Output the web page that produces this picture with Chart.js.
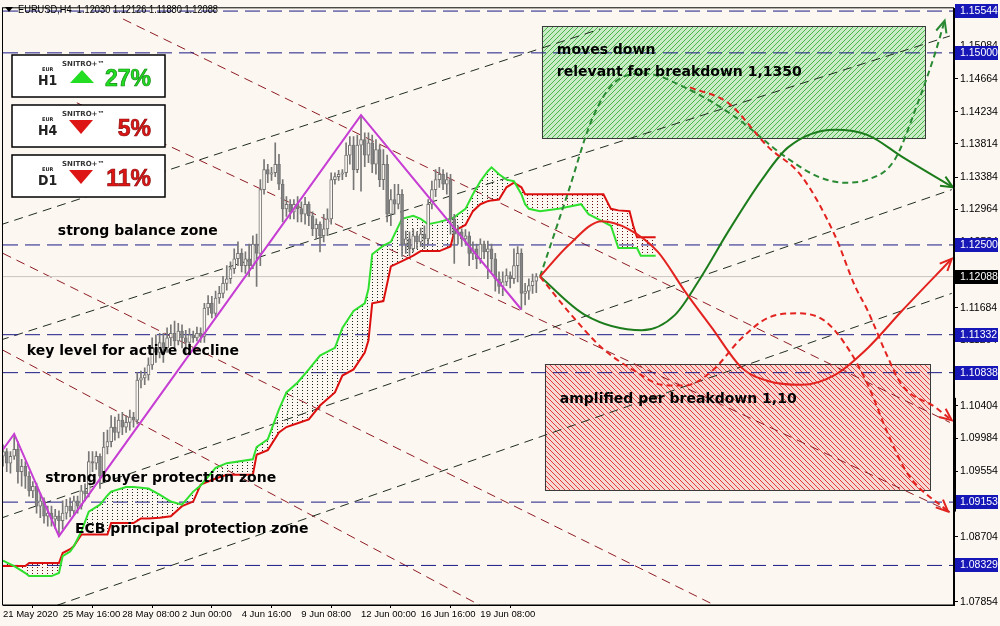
<!DOCTYPE html>
<html>
<head>
<meta charset="utf-8">
<script src="https://cdn.jsdelivr.net/npm/chart.js@4.4.0/dist/chart.umd.min.js"></script>
<style>
html, body { margin: 0; padding: 0; background: #fcf7f1; }
#wrap { width: 1000px; height: 626px; }
</style>
</head>
<body>
<div id="wrap"><canvas id="chart" width="1000" height="626"></canvas></div>
<script>
// EURUSD H4 candles, bar 0 = 21 May 2020 00:00
const candleOpen = [1.0975,1.0981,1.0966,1.0975,1.0984,1.0955,1.0962,1.0949,1.0930,1.0936,1.0910,1.0917,1.0897,1.0901,1.0893,1.0897,1.0891,1.0901,1.0910,1.0904,
  1.0917,1.0910,1.0930,1.0926,1.0968,1.0966,1.0975,1.0949,1.0987,1.0994,1.1013,1.1006,1.1022,1.1013,1.1019,1.1026,1.1022,1.1074,1.1077,1.1081,
  1.1094,1.1116,1.1110,1.1123,1.1116,1.1129,1.1135,1.1125,1.1138,1.1129,1.1123,1.1133,1.1129,1.1135,1.1131,1.1168,1.1174,1.1161,1.1181,1.1187,
  1.1200,1.1206,1.1219,1.1232,1.1239,1.1223,1.1232,1.1223,1.1251,1.1239,1.1322,1.1348,1.1342,1.1344,1.1355,1.1329,1.1297,1.1303,1.1293,1.1303,
  1.1297,1.1290,1.1303,1.1288,1.1271,1.1277,1.1262,1.1271,1.1284,1.1335,1.1339,1.1342,1.1344,1.1367,1.1380,1.1348,1.1380,1.1387,1.1367,1.1383,
  1.1355,1.1374,1.1335,1.1355,1.1290,1.1309,1.1303,1.1316,1.1251,1.1258,1.1245,1.1262,1.1254,1.1264,1.1258,1.1303,1.1322,1.1335,1.1342,1.1329,
  1.1335,1.1284,1.1264,1.1267,1.1258,1.1262,1.1239,1.1245,1.1232,1.1251,1.1241,1.1245,1.1232,1.1206,1.1196,1.1202,1.1210,1.1206,1.1223,1.1239,
  1.1187,1.1190,1.1197,1.12030];
const candleHigh = [1.0990,1.0985,1.0981,1.1004,1.0994,1.0971,1.0968,1.0955,1.0942,1.0940,1.0927,1.0921,1.0910,1.0910,1.0906,1.0904,1.0917,1.0919,1.0921,1.0923,
  1.0923,1.0937,1.0939,1.0981,1.0981,1.0981,1.0978,1.1006,1.1009,1.1028,1.1026,1.1030,1.1032,1.1028,1.1035,1.1032,1.1084,1.1086,1.1090,1.1103,
  1.1129,1.1133,1.1135,1.1135,1.1142,1.1146,1.1151,1.1148,1.1146,1.1139,1.1141,1.1138,1.1143,1.1142,1.1174,1.1184,1.1183,1.1190,1.1196,1.1209,
  1.1223,1.1228,1.1245,1.1254,1.1245,1.1241,1.1251,1.1262,1.1264,1.1335,1.1361,1.1355,1.1351,1.1383,1.1368,1.1335,1.1313,1.1309,1.1309,1.1313,
  1.1306,1.1312,1.1306,1.1293,1.1284,1.1280,1.1290,1.1297,1.1344,1.1344,1.1347,1.1348,1.1383,1.1391,1.1391,1.1393,1.1419,1.1396,1.1396,1.1393,
  1.1387,1.1380,1.1374,1.1367,1.1322,1.1329,1.1329,1.1322,1.1268,1.1267,1.1271,1.1267,1.1272,1.1275,1.1309,1.1333,1.1348,1.1351,1.1348,1.1344,
  1.1342,1.1290,1.1275,1.1271,1.1270,1.1267,1.1254,1.1251,1.1258,1.1255,1.1255,1.1251,1.1239,1.1215,1.1215,1.1219,1.1215,1.1245,1.1248,1.1245,
  1.1200,1.1206,1.1212,1.12126];
const candleLow = [1.0962,1.0955,1.0953,1.0971,1.0940,1.0936,1.0933,1.0923,1.0921,1.0901,1.0895,1.0888,1.0884,1.0884,1.0881,1.0871,1.0880,1.0893,1.0896,1.0899,
  1.0901,1.0906,1.0917,1.0922,1.0955,1.0958,1.0933,1.0945,1.0978,1.0987,1.0996,1.0999,1.1003,1.1006,1.1009,1.1013,1.1017,1.1064,1.1068,1.1074,
  1.1088,1.1097,1.1103,1.1097,1.1110,1.1119,1.1116,1.1120,1.1116,1.1107,1.1116,1.1123,1.1125,1.1123,1.1123,1.1159,1.1155,1.1157,1.1174,1.1181,
  1.1191,1.1200,1.1213,1.1223,1.1215,1.1213,1.1209,1.1219,1.1196,1.1223,1.1316,1.1331,1.1334,1.1339,1.1322,1.1280,1.1287,1.1284,1.1284,1.1280,
  1.1280,1.1277,1.1275,1.1262,1.1258,1.1241,1.1254,1.1262,1.1277,1.1329,1.1334,1.1335,1.1339,1.1355,1.1322,1.1344,1.1320,1.1352,1.1357,1.1344,
  1.1342,1.1326,1.1322,1.1280,1.1275,1.1290,1.1297,1.1235,1.1239,1.1236,1.1241,1.1245,1.1248,1.1245,1.1251,1.1297,1.1313,1.1325,1.1322,1.1316,
  1.1264,1.1226,1.1251,1.1248,1.1251,1.1223,1.1231,1.1219,1.1226,1.1232,1.1206,1.1215,1.1190,1.1187,1.1184,1.1197,1.1194,1.1200,1.1202,1.1166,
  1.1172,1.1179,1.1187,1.11880];
const candleClose = [1.0981,1.0966,1.0975,1.0984,1.0955,1.0962,1.0949,1.0930,1.0936,1.0910,1.0917,1.0897,1.0901,1.0893,1.0897,1.0891,1.0901,1.0910,1.0904,1.0917,
  1.0910,1.0930,1.0926,1.0968,1.0966,1.0975,1.0949,1.0987,1.0994,1.1013,1.1006,1.1022,1.1013,1.1019,1.1026,1.1022,1.1074,1.1077,1.1081,1.1094,
  1.1116,1.1110,1.1123,1.1116,1.1129,1.1135,1.1125,1.1138,1.1129,1.1123,1.1133,1.1129,1.1135,1.1131,1.1168,1.1174,1.1161,1.1181,1.1187,1.1200,
  1.1206,1.1219,1.1232,1.1239,1.1223,1.1232,1.1223,1.1251,1.1239,1.1322,1.1348,1.1342,1.1344,1.1355,1.1329,1.1297,1.1303,1.1293,1.1303,1.1297,
  1.1290,1.1303,1.1288,1.1271,1.1277,1.1262,1.1271,1.1284,1.1335,1.1339,1.1342,1.1344,1.1367,1.1380,1.1348,1.1380,1.1387,1.1367,1.1383,1.1355,
  1.1374,1.1335,1.1355,1.1290,1.1309,1.1303,1.1316,1.1251,1.1258,1.1245,1.1262,1.1254,1.1264,1.1258,1.1303,1.1322,1.1335,1.1342,1.1329,1.1335,
  1.1284,1.1264,1.1267,1.1258,1.1262,1.1239,1.1245,1.1232,1.1251,1.1241,1.1245,1.1232,1.1206,1.1196,1.1202,1.1210,1.1206,1.1223,1.1239,1.1187,
  1.1190,1.1197,1.1203,1.12088];

// Ichimoku cloud (shifted forward 26 bars)
const ichiBar = [0,3,6,7,13,15,16,18,19,21,23,26,28,29,33,35,37,39,42,45,48,51,53,57,60,67,68,71,74,76,79,82,85,89,91,94,97,98,99,102,
  104,107,110,112,114,117,120,121,122,124,126,128,130,131,133,135,137,139,140,141,144,149,155,157,161,163,165,168,169,170,171,175];
const spanA = [1.0839,1.0832,1.0823,1.0819,1.0819,1.0823,1.0845,1.0851,1.0858,1.0877,1.0903,1.0912,1.0924,1.0929,1.0935,1.0935,1.0934,1.0933,1.0925,1.0916,
  1.0912,1.0929,1.0937,1.0960,1.0966,1.0971,1.0987,1.0997,1.1036,1.1058,1.1071,1.1088,1.1106,1.1116,1.1142,1.1164,1.1174,1.1193,1.1238,1.1249,
  1.1254,1.1284,1.1288,1.1284,1.1277,1.1280,1.1284,1.1286,1.1290,1.1297,1.1316,1.1333,1.1346,1.1351,1.1342,1.1335,1.1333,1.1316,1.1303,1.1297,
  1.1294,1.1297,1.1303,1.1290,1.1280,1.1275,1.1246,1.1246,1.1246,1.1246,1.1236,1.1236];
const spanB = [1.0832,1.0832,1.0832,1.0836,1.0836,1.0836,1.0849,1.0854,1.0858,1.0873,1.0873,1.0873,1.0873,1.0888,1.0888,1.0888,1.0894,1.0894,1.0895,1.0897,
  1.0910,1.0916,1.0938,1.0946,1.0951,1.0951,1.0977,1.0983,1.1006,1.1013,1.1018,1.1023,1.1041,1.1058,1.1080,1.1088,1.1110,1.1126,1.1174,1.1177,
  1.1222,1.1229,1.1236,1.1242,1.1242,1.1242,1.1248,1.1267,1.1271,1.1276,1.1294,1.1303,1.1307,1.1308,1.1309,1.1325,1.1331,1.1325,1.1316,1.1316,
  1.1316,1.1316,1.1316,1.1316,1.1316,1.1297,1.1295,1.1294,1.1275,1.1260,1.1260,1.1260];

// zigzag
const zigBar = [0, 3, 15, 96, 139];
const zigPrice = [1.0984, 1.1004, 1.0871, 1.1419, 1.1166];

// horizontal levels
const levelPrices = [1.15544, 1.15000, 1.12500, 1.11332, 1.10838, 1.09153, 1.08329];
const lastPrice = 1.12088;

// channel lines [bar0, price0, bar1, price1]
const upChannels = [
  [-0.8, 1.1276, 160.1, 1.1531],
  [-0.8, 1.1126, 253.9, 1.1522],
  [-0.8, 1.0894, 254.4, 1.1322],
  [14.5, 1.0781, 254.4, 1.1187]
];
const downChannels = [
  [32.2, 1.1544, 253.9, 1.1019],
  [19.8, 1.1435, 253.9, 1.0903],
  [0, 1.1239, 190.9, 1.0781],
  [0, 1.1113, 127.9, 1.0781]
];

// forecast paths
const greenSolidBar = [144, 156, 171.3, 180.2, 187.4, 194.4, 203.5, 210.5, 223.1, 231.9, 241, 254.7];
const greenSolidPrice = [1.12088, 1.1159, 1.1139, 1.1159, 1.1210, 1.1267, 1.1335, 1.1377, 1.1400, 1.1393, 1.1365, 1.1325];
const greenDashBar = [144, 151.5, 157.9, 164.1, 172.1, 182.8, 196.2, 209.7, 218.5, 225.7, 231.9, 239.1, 245.3, 249.9, 252.5];
const greenDashPrice = [1.12088, 1.1318, 1.1413, 1.1462, 1.1473, 1.1455, 1.1417, 1.1365, 1.1339, 1.1331, 1.1335, 1.1361, 1.1435, 1.1499, 1.1542];
const redSolidBar = [144, 151.5, 160.6, 167.6, 175.6, 182.8, 190.1, 198.1, 205.1, 214.2, 223.1, 231.9, 241, 254.4];
const redSolidPrice = [1.12088, 1.1249, 1.1281, 1.1271, 1.1241, 1.1190, 1.1142, 1.1090, 1.1073, 1.1068, 1.1081, 1.1116, 1.1164, 1.1232];
const redDashTopBar = [184.2, 194.4, 205.1, 214.2, 223.1, 228.4, 231.9, 236.5, 241, 249.9, 254.4];
const redDashTopPrice = [1.1455, 1.1435, 1.1378, 1.1339, 1.1262, 1.1197, 1.1164, 1.1112, 1.1068, 1.1039, 1.1022];
const redDashLowBar = [144, 151.5, 160.6, 169.4, 176.7, 182.8, 190.1, 198.1, 205.1, 213.1, 220.4, 226.5, 231.9, 237.3, 242.6, 253.4];
const redDashLowPrice = [1.12088, 1.1164, 1.1116, 1.1086, 1.1068, 1.1067, 1.1086, 1.1129, 1.1155, 1.1161, 1.1151, 1.1116, 1.1068, 1.1004, 1.0952, 1.0903];

// zones [bar0, bar1, priceTop, priceBottom]
const buyZone = [144.5, 247.2, 1.1535, 1.1389];
const sellZone = [145.3, 248.5, 1.1095, 1.0931];

// notes
const noteText = ['strong balance zone', 'key level for active decline', 'strong buyer protection zone', 'ECB principal protection zone',
  'moves down', 'relevant for breakdown 1,1350', 'amplified per breakdown 1,10'];
const noteBar = [14.7, 6.4, 11.3, 19.3, 148.5, 148.5, 149.3];
const notePrice = [1.1268, 1.1112, 1.0946, 1.0880, 1.1503, 1.1474, 1.1049];

// axes
const xTickBars = [0, 16, 32, 48, 64, 80, 96, 112, 128];
const xTickLabels = ['21 May 2020', '25 May 16:00', '28 May 08:00', '2 Jun 00:00', '4 Jun 16:00', '9 Jun 08:00', '12 Jun 00:00', '16 Jun 16:00', '19 Jun 08:00'];
const yTickValues = [1.07854, 1.08284, 1.08704, 1.09134, 1.09554, 1.09984, 1.10404, 1.10834, 1.11264, 1.11684, 1.12114, 1.12534,
  1.12964, 1.13384, 1.13814, 1.14234, 1.14664, 1.15084];

// signal panels
const panelFrames = ['H1', 'H4', 'D1'];
const panelPercent = [27, 5, 11];
const panelUp = [true, false, false];

const BG = '#fcf7f1';
const canvas = document.getElementById('chart');
const ctx = canvas.getContext('2d');

function makePattern(w, h, bg, draw) {
  const c = document.createElement('canvas');
  c.width = w; c.height = h;
  const g = c.getContext('2d');
  if (bg) { g.fillStyle = bg; g.fillRect(0, 0, w, h); }
  draw(g);
  return ctx.createPattern(c, 'repeat');
}
const dotsDark = makePattern(5, 3, null, g => { g.fillStyle = '#1e2a1e'; g.fillRect(2, 0, 1, 1); });
const dotsRed = makePattern(5, 3, null, g => { g.fillStyle = '#6a0f0f'; g.fillRect(2, 0, 1, 1); });
const hatchGreen = makePattern(5, 5, '#c9ecc6', g => {
  g.strokeStyle = '#4cb84c'; g.lineWidth = 1;
  g.beginPath(); g.moveTo(-1, 6); g.lineTo(6, -1); g.stroke();
});
const hatchRed = makePattern(5, 5, '#f7d9d4', g => {
  g.strokeStyle = '#e23a3a'; g.lineWidth = 1;
  g.beginPath(); g.moveTo(-1, -1); g.lineTo(6, 6); g.stroke();
});

const pts = (xs, ys) => xs.map((x, i) => ({ x: x, y: ys[i] }));
const seg = s => [{ x: s[0], y: s[1] }, { x: s[2], y: s[3] }];

const datasets = [];
upChannels.forEach(s => datasets.push({
  type: 'line', data: seg(s), borderColor: '#1f2d1f', borderWidth: 1, borderDash: [9, 6], pointRadius: 0, order: 20
}));
downChannels.forEach(s => datasets.push({
  type: 'line', data: seg(s), borderColor: '#8e1c24', borderWidth: 1, borderDash: [9, 6], pointRadius: 0, order: 20
}));
levelPrices.forEach(p => datasets.push({
  type: 'line', data: [{ x: 0, y: p }, { x: 255, y: p }], borderColor: '#1b1b86', borderWidth: 1, borderDash: [15, 7], pointRadius: 0, order: 19
}));
datasets.push({
  type: 'line', data: [{ x: 0, y: lastPrice }, { x: 255, y: lastPrice }], borderColor: '#c9c4c0', borderWidth: 1, pointRadius: 0, order: 19
});
const spanAIndex = datasets.length;
datasets.push({
  type: 'line', data: pts(ichiBar, spanA), borderColor: '#2fe02f', borderWidth: 2, pointRadius: 0, order: 12
});
datasets.push({
  type: 'line', data: pts(ichiBar, spanB), borderColor: '#dd1010', borderWidth: 2, pointRadius: 0, order: 13,
  fill: { target: spanAIndex, above: dotsRed, below: dotsDark }
});
datasets.push({
  type: 'bar', data: candleLow.map((l, i) => ({ x: i, y: [l, candleHigh[i]] })),
  backgroundColor: '#777777', barThickness: 1, grouped: false, order: 11
});
datasets.push({
  type: 'bar', data: candleOpen.map((o, i) => ({ x: i, y: [o, candleClose[i]] })),
  backgroundColor: candleOpen.map((o, i) => candleClose[i] >= o ? BG : '#858585'),
  borderColor: '#737373', borderWidth: 1, borderSkipped: false, barThickness: 3, grouped: false, order: 10
});
datasets.push({
  type: 'line', data: pts(zigBar, zigPrice), borderColor: '#c63ed3', borderWidth: 2, pointRadius: 0, order: 8
});
datasets.push({
  type: 'line', data: pts(greenSolidBar, greenSolidPrice), borderColor: '#1d7d1d', borderWidth: 2, pointRadius: 0,
  cubicInterpolationMode: 'monotone', order: 5, arrow: true
});
datasets.push({
  type: 'line', data: pts(greenDashBar, greenDashPrice), borderColor: '#2a8a34', borderWidth: 2, borderDash: [6, 4], pointRadius: 0,
  cubicInterpolationMode: 'monotone', order: 5, arrow: true
});
datasets.push({
  type: 'line', data: pts(redSolidBar, redSolidPrice), borderColor: '#e2231f', borderWidth: 2, pointRadius: 0,
  cubicInterpolationMode: 'monotone', order: 4, arrow: true
});
datasets.push({
  type: 'line', data: pts(redDashTopBar, redDashTopPrice), borderColor: '#e2231f', borderWidth: 2, borderDash: [6, 4], pointRadius: 0,
  cubicInterpolationMode: 'monotone', order: 4, arrow: true
});
datasets.push({
  type: 'line', data: pts(redDashLowBar, redDashLowPrice), borderColor: '#e2231f', borderWidth: 2, borderDash: [6, 4], pointRadius: 0,
  cubicInterpolationMode: 'monotone', order: 4, arrow: true
});

// background, zones, notes, frame and overlays
const backdrop = {
  id: 'backdrop',
  beforeDraw(chart) {
    const c = chart.ctx;
    c.save(); c.fillStyle = BG; c.fillRect(0, 0, chart.width, chart.height); c.restore();
  },
  beforeDatasetsDraw(chart) {
    const c = chart.ctx, x = chart.scales.x, y = chart.scales.y;
    [[buyZone, hatchGreen], [sellZone, hatchRed]].forEach(([z, pat]) => {
      const x0 = x.getPixelForValue(z[0]), x1 = x.getPixelForValue(z[1]);
      const y0 = y.getPixelForValue(z[2]), y1 = y.getPixelForValue(z[3]);
      c.save();
      c.fillStyle = pat; c.fillRect(x0, y0, x1 - x0, y1 - y0);
      c.strokeStyle = '#3a3a3a'; c.lineWidth = 1;
      c.strokeRect(Math.round(x0) + 0.5, Math.round(y0) + 0.5, Math.round(x1 - x0), Math.round(y1 - y0));
      c.restore();
    });
  },
  afterDatasetsDraw(chart) {
    const c = chart.ctx, x = chart.scales.x, y = chart.scales.y;
    // arrow heads on forecast paths
    chart.data.datasets.forEach((ds, i) => {
      if (!ds.arrow) return;
      const p = chart.getDatasetMeta(i).data;
      const e = p[p.length - 1], q = p[p.length - 2];
      let dx = e.x - e.cp1x, dy = e.y - e.cp1y;
      if (!isFinite(dx) || Math.abs(dx) + Math.abs(dy) < 0.5) { dx = e.x - q.x; dy = e.y - q.y; }
      const a = Math.atan2(dy, dx), L = 13;
      c.save();
      c.strokeStyle = ds.borderColor; c.lineWidth = 2; c.setLineDash([]);
      c.beginPath();
      c.moveTo(e.x - L * Math.cos(a - 0.42), e.y - L * Math.sin(a - 0.42));
      c.lineTo(e.x, e.y);
      c.lineTo(e.x - L * Math.cos(a + 0.42), e.y - L * Math.sin(a + 0.42));
      c.stroke();
      c.restore();
    });
    // notes
    c.save();
    c.fillStyle = '#000';
    c.font = 'bold 14px "DejaVu Sans"';
    c.textBaseline = 'middle';
    noteText.forEach((t, i) => c.fillText(t, x.getPixelForValue(noteBar[i]), y.getPixelForValue(notePrice[i])));
    c.restore();
    // frame
    const a = chart.chartArea;
    c.save(); c.strokeStyle = '#000'; c.lineWidth = 1;
    c.strokeRect(a.left - 0.5, a.top - 0.5, a.right - a.left, a.bottom - a.top + 0.5);
    c.restore();
  },
  afterDraw(chart) {
    const c = chart.ctx, y = chart.scales.y, a = chart.chartArea;
    // marked price labels
    c.save();
    c.font = '10.5px "Liberation Sans"';
    c.textBaseline = 'middle';
    const tag = (p, bg) => {
      const py = Math.round(y.getPixelForValue(p));
      c.fillStyle = bg; c.fillRect(a.right + 1, py - 7, 43, 14);
      c.fillStyle = '#fff'; c.fillText(p.toFixed(5), a.right + 6, py + 0.5);
    };
    levelPrices.forEach(p => tag(p, '#1717b8'));
    tag(lastPrice, '#000');
    // vertical marker on the price scale
    c.fillStyle = '#000';
    const m0 = y.getPixelForValue(1.1051), m1 = y.getPixelForValue(1.0903);
    c.fillRect(a.right - 1, m0, 3, m1 - m0);
    c.restore();

    // symbol header
    c.save();
    c.fillStyle = '#000';
    c.beginPath(); c.moveTo(5, 7); c.lineTo(13, 7); c.lineTo(9, 12); c.closePath(); c.fill();
    c.font = '11px "Liberation Sans"';
    c.textBaseline = 'middle';
    const head = 'EURUSD,H4  1.12030 1.12126 1.11880 1.12088';
    const hw = c.measureText(head).width;
    c.translate(18, 10);
    c.scale(200 / hw, 1);
    c.fillText(head, 0, 0);
    c.restore();

    // signal panels
    panelFrames.forEach((f, i) => {
      const px = 12, py = 55 + 50 * i;
      c.save();
      c.fillStyle = '#ffffff'; c.fillRect(px, py, 153, 42);
      c.strokeStyle = '#000'; c.lineWidth = 1.5; c.strokeRect(px, py, 153, 42);
      c.fillStyle = '#222';
      c.font = 'bold 5px "DejaVu Sans"';
      c.fillText('EUR', 42, py + 16);
      c.font = 'bold 14px "DejaVu Sans Condensed", "DejaVu Sans"';
      c.fillText(f, 38, py + 30);
      c.font = 'bold 7px "DejaVu Sans"';
      c.fillStyle = '#333';
      c.fillText('SNITRO+\u2122', 62, py + 11);
      const up = panelUp[i];
      c.fillStyle = up ? '#22dd22' : '#dd1515';
      c.beginPath();
      if (up) { c.moveTo(70, py + 28); c.lineTo(94, py + 28); c.lineTo(82, py + 15); }
      else { c.moveTo(69, py + 15); c.lineTo(93, py + 15); c.lineTo(81, py + 29); }
      c.closePath(); c.fill();
      c.font = 'bold 23px "Liberation Sans"';
      c.textAlign = 'right';
      c.textBaseline = 'alphabetic';
      c.fillStyle = up ? '#22dd22' : '#dd1515';
      c.fillText(panelPercent[i] + '%', 151, py + 31);
      c.strokeStyle = up ? '#128a12' : '#8a0c0c';
      c.lineWidth = 0.7;
      c.strokeText(panelPercent[i] + '%', 151, py + 31);
      c.restore();
    });
  }
};

new Chart(ctx, {
  type: 'line',
  data: { datasets: datasets },
  options: {
    responsive: false,
    animation: false,
    events: [],
    layout: { padding: { left: 3, top: 2, right: 0, bottom: 0 } },
    plugins: { legend: { display: false }, tooltip: { enabled: false } },
    scales: {
      x: {
        type: 'linear', min: 0, max: 255, offset: false,
        afterFit(s) { s.height = 21; },
        afterBuildTicks(s) { s.ticks = xTickBars.map(v => ({ value: v })); },
        ticks: {
          callback: (v, i) => xTickLabels[i], align: 'start', autoSkip: false, maxRotation: 0, minRotation: 0,
          padding: 1, color: '#000', font: { family: 'Liberation Sans', size: 9.5 }
        },
        grid: { display: true, drawOnChartArea: false, drawTicks: true, tickLength: 3, color: '#000' },
        border: { display: true, color: '#000' }
      },
      y: {
        position: 'right', min: 1.07814, max: 1.15580,
        afterFit(s) { s.width = 46; },
        afterBuildTicks(s) { s.ticks = yTickValues.map(v => ({ value: v })); },
        ticks: {
          callback: v => v.toFixed(5), autoSkip: false, padding: 2, color: '#000',
          font: { family: 'Liberation Sans', size: 10.5 }
        },
        grid: { display: true, drawOnChartArea: false, drawTicks: true, tickLength: 4, color: '#000' },
        border: { display: true, color: '#000' }
      }
    }
  },
  plugins: [backdrop]
});
</script>
</body>
</html>
